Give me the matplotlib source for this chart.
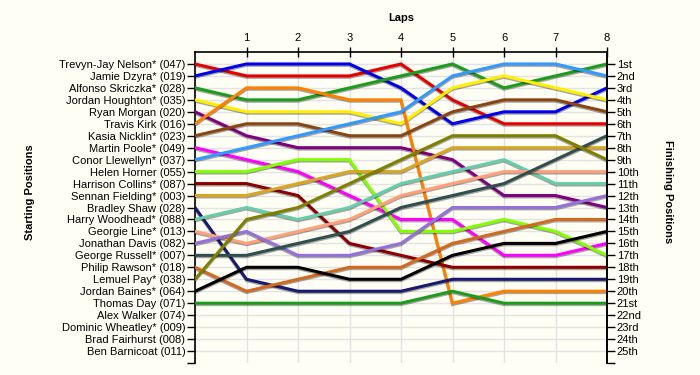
import matplotlib
matplotlib.use("Agg")
import matplotlib.pyplot as plt
import matplotlib.patheffects as pe

plt.rcParams['font.family'] = ['Liberation Sans', 'DejaVu Sans']

# lap chart data: position of each driver at lap 0 (start) .. lap 8
laps = [0, 1, 2, 3, 4, 5, 6, 7, 8]

start_labels = [
    "Trevyn-Jay Nelson* (047)", "Jamie Dzyra* (019)", "Alfonso Skriczka* (028)",
    "Jordan Houghton* (035)", "Ryan Morgan (020)", "Travis Kirk (016)",
    "Kasia Nicklin* (023)", "Martin Poole* (049)", "Conor Llewellyn* (037)",
    "Helen Horner (055)", "Harrison Collins* (087)", "Sennan Fielding* (003)",
    "Bradley Shaw (028)", "Harry Woodhead* (088)", "Georgie Line* (013)",
    "Jonathan Davis (082)", "George Russell* (007)", "Philip Rawson* (018)",
    "Lemuel Pay* (038)", "Jordan Baines* (064)", "Thomas Day (071)",
    "Alex Walker (074)", "Dominic Wheatley* (009)", "Brad Fairhurst (008)",
    "Ben Barnicoat (011)",
]

finish_labels = ["1st", "2nd", "3rd"] + ["%dth" % i for i in range(4, 21)] + \
    ["21st", "22nd", "23rd", "24th", "25th"]

colors = [
    "#e80000", "#0000ee", "#1c9c1c", "#ffee00", "#800080", "#ff8000",
    "#8b4513", "#ff00ff", "#3399ff", "#80ff00", "#8b0000", "#daa520",
    "#191970", "#66cdaa", "#ffa07a", "#9370db", "#2f4f4f", "#d2691e",
    "#808000", "#000000", "#1c9c1c",
]

positions = [
    [1, 2, 2, 2, 1, 4, 6, 6, 6],        # Trevyn-Jay Nelson
    [2, 1, 1, 1, 3, 6, 5, 5, 3],        # Jamie Dzyra
    [3, 4, 4, 3, 2, 1, 3, 2, 1],        # Alfonso Skriczka
    [4, 5, 5, 5, 6, 3, 2, 3, 4],        # Jordan Houghton
    [5, 7, 8, 8, 8, 9, 12, 12, 13],     # Ryan Morgan
    [6, 3, 3, 4, 4, 21, 20, 20, 20],    # Travis Kirk
    [7, 6, 6, 7, 7, 5, 4, 4, 5],        # Kasia Nicklin
    [8, 9, 10, 12, 14, 14, 17, 17, 16], # Martin Poole
    [9, 8, 7, 6, 5, 2, 1, 1, 2],        # Conor Llewellyn
    [10, 10, 9, 9, 15, 15, 14, 15, 17], # Helen Horner
    [11, 11, 12, 16, 17, 18, 18, 18, 18],  # Harrison Collins
    [12, 12, 11, 10, 10, 8, 8, 8, 8],   # Sennan Fielding
    [13, 19, 20, 20, 20, 19, 19, 19, 19],  # Bradley Shaw
    [14, 13, 14, 13, 11, 10, 9, 11, 11],   # Harry Woodhead
    [15, 16, 15, 14, 12, 11, 10, 10, 10],  # Georgie Line
    [16, 15, 17, 17, 16, 13, 13, 13, 12],  # Jonathan Davis
    [17, 17, 16, 15, 13, 12, 11, 9, 7],    # George Russell
    [18, 20, 19, 18, 18, 16, 15, 14, 14],  # Philip Rawson
    [19, 14, 13, 11, 9, 7, 7, 7, 9],       # Lemuel Pay
    [20, 18, 18, 19, 19, 17, 16, 16, 15],  # Jordan Baines
    [21, 21, 21, 21, 21, 20, 21, 21, 21],  # Thomas Day
]

bg = "#fffef4"
fig = plt.figure(figsize=(7, 3.75), dpi=100, facecolor=bg)
ax = fig.add_axes([195 / 700, 12 / 375, 412 / 700, 311 / 375])
ax.set_facecolor(bg)

rows = list(range(1, 26))
for r in rows:
    ax.axhline(r, color="#e3e3e3", lw=1, zorder=1)
for lap in laps:
    ax.axvline(lap, color="#e3e3e3", lw=1, zorder=1)

shadow = [pe.SimpleLineShadow(offset=(0, -1), alpha=0.35, shadow_color="#000000"), pe.Normal()]
for pos, c in zip(positions, colors):
    ax.plot(laps, pos, color=c, lw=2.2, zorder=3, path_effects=shadow,
            solid_joinstyle="miter")

ax.set_xlim(0, 8)
ax.set_ylim(26, 0)

ax.spines["bottom"].set_visible(False)
for s in ("left", "right", "top"):
    ax.spines[s].set_linewidth(1.2)

ax.xaxis.tick_top()
ax.set_xticks(laps[1:])
ax.set_xticklabels([str(l) for l in laps[1:]], fontsize=8)
ax.tick_params(axis="x", direction="inout", length=7, width=1, pad=3)

ax.set_yticks(rows + [26])
ax.set_yticklabels(start_labels + [""], fontsize=8)
ax.tick_params(axis="y", direction="out", length=6, width=1, pad=1)

ax2 = ax.twinx()
ax2.set_ylim(26, 0)
ax2.set_yticks(rows + [26])
ax2.set_yticklabels(finish_labels + [""], fontsize=8)
ax2.tick_params(axis="y", direction="out", length=6, width=1, pad=1)
for s in ("bottom", "left", "top"):
    ax2.spines[s].set_visible(False)
ax2.spines["right"].set_linewidth(1.2)

fig.text(401 / 700, 1 - 18 / 375, "Laps", ha="center", va="center",
         fontsize=8, fontweight="bold")
fig.text(30 / 700, 1 - 192 / 375, "Starting Positions", ha="center", va="center",
         rotation=90, fontsize=8, fontweight="bold")
fig.text(668 / 700, 1 - 192 / 375, "Finishing Positions", ha="center", va="center",
         rotation=-90, fontsize=8, fontweight="bold")

fig.savefig("out.png", dpi=100, facecolor=bg)
